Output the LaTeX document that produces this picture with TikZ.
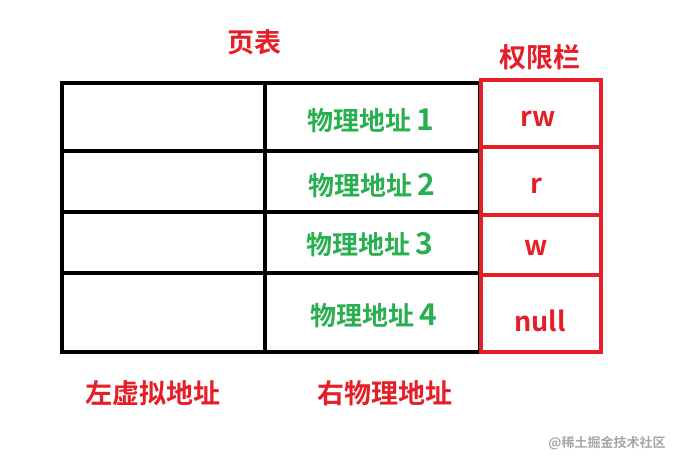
\documentclass[tikz,border=0pt]{standalone}
\usepackage{fontspec}
\newfontfamily\cjk{Noto Sans CJK SC Bold}
\begin{document}
\begin{tikzpicture}[x=1pt,y=-1pt,
  blk/.style={line width=3.5pt,black},
  rd/.style={line width=3.5pt,draw={rgb,255:red,230;green,30;blue,40}},
  gt/.style={text={rgb,255:red,40;green,175;blue,80},font=\cjk\fontsize{26}{26}\selectfont},
  rt/.style={text={rgb,255:red,230;green,30;blue,40},font=\cjk\fontsize{27}{27}\selectfont}]
\useasboundingbox (0,0) rectangle (687,461);
\draw[blk] (62,83) rectangle (480,352);
\draw[blk] (265,83) -- (265,352);
\draw[blk] (62,151) -- (480,151);
\draw[blk] (62,212) -- (480,212);
\draw[blk] (62,273) -- (480,273);
\draw[rd] (481,80) rectangle (601,352);
\draw[rd] (481,147) -- (601,147);
\draw[rd] (481,215) -- (601,215);
\draw[rd] (481,275) -- (601,275);
\node[gt] (p1) at (371,121) {物理地址\,{\fontsize{30}{30}\selectfont 1}};
\node[gt] (p2) at (372,186) {物理地址\,{\fontsize{30}{30}\selectfont 2}};
\node[gt] (p3) at (370,245) {物理地址\,{\fontsize{30}{30}\selectfont 3}};
\node[gt] (p4) at (374,316) {物理地址\,{\fontsize{30}{30}\selectfont 4}};
\node[rt] (a1) at (538,119) {rw};
\node[rt] (a2) at (536,186) {r};
\node[rt] (a3) at (536,248) {w};
\node[rt] (a4) at (540,321) {null};
\node[rt] (t) at (254,42) {页表};
\node[rt] (q) at (540,57) {权限栏};
\node[rt] (l) at (153,393) {左虚拟地址};
\node[rt] (r) at (385,393) {右物理地址};
\node[text=gray!70,font=\cjk\fontsize{13}{13}\selectfont] (w) at (607,443) {@稀土掘金技术社区};
\end{tikzpicture}
\end{document}
